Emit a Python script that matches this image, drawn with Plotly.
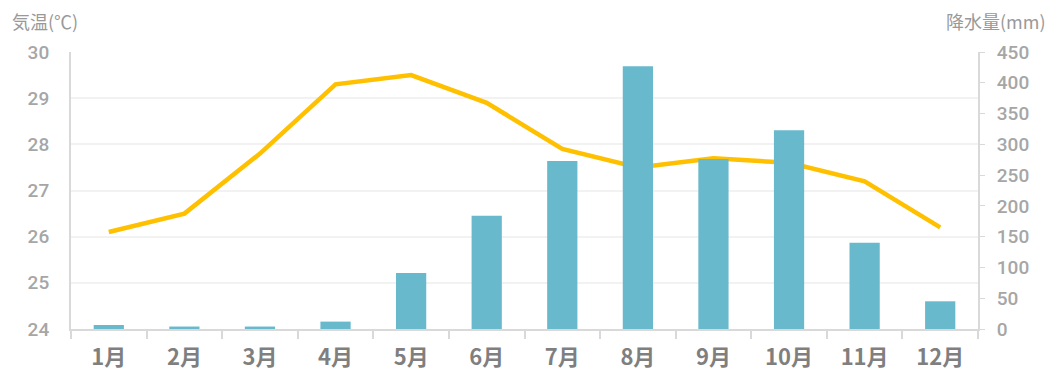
import plotly.graph_objects as go

months = ["1月", "2月", "3月", "4月", "5月", "6月", "7月", "8月", "9月", "10月", "11月", "12月"]
temperature = [26.1, 26.5, 27.8, 29.3, 29.5, 28.9, 27.9, 27.5, 27.7, 27.6, 27.2, 26.2]
precipitation = [6.5, 4, 4, 12, 91, 184, 273, 427, 276, 323, 140, 45]

fig = go.Figure()
fig.add_trace(go.Bar(x=months, y=precipitation, yaxis="y2", marker_color="#68b9cc",
                     marker_line_width=0, name="降水量"))
fig.add_trace(go.Scatter(x=months, y=temperature, yaxis="y", mode="lines",
                         line=dict(color="#ffc000", width=4.5), name="気温"))

fig.update_layout(
    width=1040, height=371,
    margin=dict(l=63, r=70, t=44, b=50, autoexpand=False),
    plot_bgcolor="white", paper_bgcolor="white",
    showlegend=False,
    bargap=0.6,
    font=dict(family="Roboto, Noto Sans CJK JP", color="#a6a6a6"),
    xaxis=dict(
        showline=True, linecolor="#d9d9d9", linewidth=2,
        ticks="outside", tickson="boundaries", ticklen=8, tickcolor="#d9d9d9", tickwidth=2,
        tickfont=dict(size=22, color="#7f7f7f", family="Noto Sans CJK JP", weight="bold"),
        showgrid=False, ticklabelstandoff=8,
    ),
    yaxis=dict(
        range=[24, 30], dtick=1,
        showline=True, linecolor="#d9d9d9", linewidth=2,
        showgrid=True, gridcolor="#f2f2f2", gridwidth=2,
        tickfont=dict(size=19, color="#a6a6a6", family="Roboto", weight=500),
        ticks="", ticklabelstandoff=16, zeroline=False,
    ),
    yaxis2=dict(
        range=[0, 450], dtick=50, overlaying="y", side="right",
        showline=True, linecolor="#d9d9d9", linewidth=2,
        showgrid=False, ticks="outside", ticklen=5, tickcolor="#d9d9d9",
        tickfont=dict(size=19, color="#a6a6a6", family="Roboto", weight=500),
        zeroline=False, ticklabelstandoff=8,
    ),
    annotations=[
        dict(text="気温(℃)", xref="paper", yref="paper", x=-0.0673, y=1.0, yshift=46,
             xanchor="left", yanchor="top", showarrow=False,
             font=dict(size=18, color="#999999", family="Noto Sans CJK JP")),
        dict(text="降水量(mm)", xref="paper", yref="paper", x=1.077, y=1.0, yshift=46,
             xanchor="right", yanchor="top", showarrow=False,
             font=dict(size=18, color="#999999", family="Noto Sans CJK JP")),
    ],
)

fig.write_html("out.html")
